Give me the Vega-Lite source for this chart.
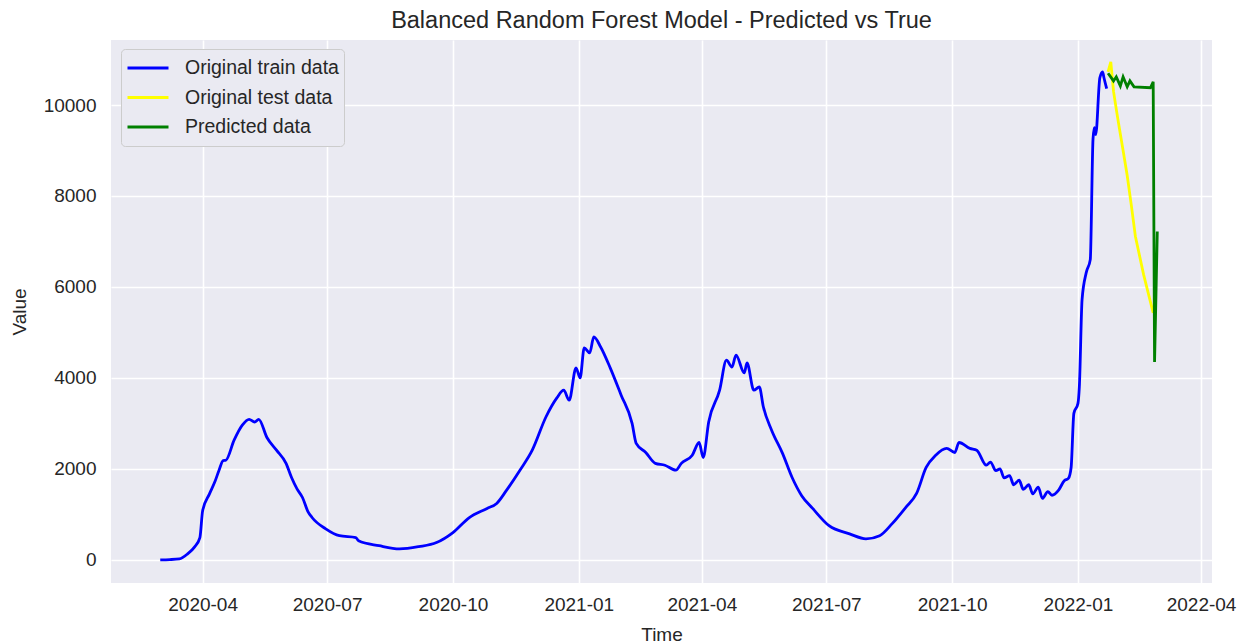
{
  "$schema": "https://vega.github.io/schema/vega-lite/v6.json",
  "width": 1101,
  "height": 543,
  "autosize": {"type": "none"},
  "padding": {"left": 111, "top": 40, "right": 40, "bottom": 61},
  "background": "#ffffff",
  "title": {"text": "Balanced Random Forest Model - Predicted vs True"},
  "datasets": {
    "train": [
      {"date": "2020-03-01", "value": 0},
      {"date": "2020-03-08", "value": 5},
      {"date": "2020-03-15", "value": 20},
      {"date": "2020-03-21", "value": 130},
      {"date": "2020-03-26", "value": 280},
      {"date": "2020-03-30", "value": 490},
      {"date": "2020-04-01", "value": 1080},
      {"date": "2020-04-06", "value": 1450},
      {"date": "2020-04-10", "value": 1720},
      {"date": "2020-04-13", "value": 1970},
      {"date": "2020-04-16", "value": 2180},
      {"date": "2020-04-18", "value": 2190},
      {"date": "2020-04-24", "value": 2630},
      {"date": "2020-04-30", "value": 2960},
      {"date": "2020-05-05", "value": 3090},
      {"date": "2020-05-09", "value": 3030},
      {"date": "2020-05-12", "value": 3090},
      {"date": "2020-05-18", "value": 2690},
      {"date": "2020-05-25", "value": 2410},
      {"date": "2020-06-01", "value": 2120},
      {"date": "2020-06-05", "value": 1810},
      {"date": "2020-06-09", "value": 1560},
      {"date": "2020-06-13", "value": 1370},
      {"date": "2020-06-17", "value": 1060},
      {"date": "2020-06-20", "value": 930},
      {"date": "2020-06-30", "value": 680},
      {"date": "2020-07-10", "value": 530},
      {"date": "2020-07-22", "value": 490},
      {"date": "2020-07-24", "value": 420},
      {"date": "2020-08-08", "value": 310},
      {"date": "2020-08-23", "value": 240},
      {"date": "2020-09-06", "value": 290},
      {"date": "2020-09-19", "value": 380},
      {"date": "2020-10-01", "value": 600},
      {"date": "2020-10-13", "value": 930},
      {"date": "2020-10-26", "value": 1130},
      {"date": "2020-11-02", "value": 1240},
      {"date": "2020-11-09", "value": 1520},
      {"date": "2020-11-19", "value": 1970},
      {"date": "2020-11-28", "value": 2410},
      {"date": "2020-12-08", "value": 3140},
      {"date": "2020-12-16", "value": 3560},
      {"date": "2020-12-21", "value": 3730},
      {"date": "2020-12-25", "value": 3510},
      {"date": "2020-12-30", "value": 4220},
      {"date": "2021-01-02", "value": 4000},
      {"date": "2021-01-05", "value": 4660},
      {"date": "2021-01-09", "value": 4550},
      {"date": "2021-01-12", "value": 4900},
      {"date": "2021-01-17", "value": 4680},
      {"date": "2021-01-24", "value": 4220},
      {"date": "2021-02-01", "value": 3620},
      {"date": "2021-02-09", "value": 3000},
      {"date": "2021-02-12", "value": 2560},
      {"date": "2021-02-19", "value": 2360},
      {"date": "2021-02-26", "value": 2120},
      {"date": "2021-03-05", "value": 2080},
      {"date": "2021-03-13", "value": 1970},
      {"date": "2021-03-17", "value": 2120},
      {"date": "2021-03-25", "value": 2300},
      {"date": "2021-03-30", "value": 2580},
      {"date": "2021-04-02", "value": 2250},
      {"date": "2021-04-06", "value": 3030},
      {"date": "2021-04-14", "value": 3730},
      {"date": "2021-04-19", "value": 4390},
      {"date": "2021-04-23", "value": 4240},
      {"date": "2021-04-26", "value": 4500},
      {"date": "2021-05-02", "value": 4110},
      {"date": "2021-05-04", "value": 4330},
      {"date": "2021-05-09", "value": 3730},
      {"date": "2021-05-13", "value": 3800},
      {"date": "2021-05-16", "value": 3360},
      {"date": "2021-05-22", "value": 2850},
      {"date": "2021-05-30", "value": 2340},
      {"date": "2021-06-06", "value": 1810},
      {"date": "2021-06-13", "value": 1410},
      {"date": "2021-06-21", "value": 1130},
      {"date": "2021-07-03", "value": 750},
      {"date": "2021-07-18", "value": 570},
      {"date": "2021-07-30", "value": 460},
      {"date": "2021-08-09", "value": 530},
      {"date": "2021-08-18", "value": 790},
      {"date": "2021-08-28", "value": 1150},
      {"date": "2021-09-05", "value": 1460},
      {"date": "2021-09-12", "value": 2030},
      {"date": "2021-09-19", "value": 2300},
      {"date": "2021-09-27", "value": 2450},
      {"date": "2021-10-03", "value": 2360},
      {"date": "2021-10-06", "value": 2580},
      {"date": "2021-10-14", "value": 2450},
      {"date": "2021-10-19", "value": 2410},
      {"date": "2021-10-26", "value": 2080},
      {"date": "2021-10-29", "value": 2150},
      {"date": "2021-11-02", "value": 1960},
      {"date": "2021-11-05", "value": 2000},
      {"date": "2021-11-08", "value": 1800},
      {"date": "2021-11-12", "value": 1850},
      {"date": "2021-11-15", "value": 1650},
      {"date": "2021-11-19", "value": 1750},
      {"date": "2021-11-22", "value": 1550},
      {"date": "2021-11-26", "value": 1650},
      {"date": "2021-11-29", "value": 1450},
      {"date": "2021-12-03", "value": 1600},
      {"date": "2021-12-06", "value": 1350},
      {"date": "2021-12-10", "value": 1500},
      {"date": "2021-12-13", "value": 1420},
      {"date": "2021-12-18", "value": 1540},
      {"date": "2021-12-22", "value": 1740},
      {"date": "2021-12-25", "value": 1790},
      {"date": "2021-12-27", "value": 2030},
      {"date": "2021-12-29", "value": 3220},
      {"date": "2022-01-01", "value": 3440},
      {"date": "2022-01-02", "value": 3800},
      {"date": "2022-01-04", "value": 5720},
      {"date": "2022-01-07", "value": 6310},
      {"date": "2022-01-10", "value": 6600},
      {"date": "2022-01-12", "value": 9250},
      {"date": "2022-01-13", "value": 9500},
      {"date": "2022-01-14", "value": 9350},
      {"date": "2022-01-17", "value": 10600},
      {"date": "2022-01-19", "value": 10730},
      {"date": "2022-01-20", "value": 10600},
      {"date": "2022-01-22", "value": 10360}
    ],
    "test": [
      {"date": "2022-01-23", "value": 10730},
      {"date": "2022-01-25", "value": 10950},
      {"date": "2022-01-27", "value": 10300},
      {"date": "2022-01-29", "value": 9910},
      {"date": "2022-01-31", "value": 9540},
      {"date": "2022-02-03", "value": 9000},
      {"date": "2022-02-06", "value": 8450},
      {"date": "2022-02-09", "value": 7800},
      {"date": "2022-02-12", "value": 7110},
      {"date": "2022-02-18", "value": 6270},
      {"date": "2022-02-25", "value": 5430}
    ],
    "pred": [
      {"date": "2022-01-23", "value": 10700},
      {"date": "2022-01-27", "value": 10530},
      {"date": "2022-01-29", "value": 10620},
      {"date": "2022-02-01", "value": 10420},
      {"date": "2022-02-03", "value": 10620},
      {"date": "2022-02-06", "value": 10400},
      {"date": "2022-02-08", "value": 10530},
      {"date": "2022-02-11", "value": 10400},
      {"date": "2022-02-23", "value": 10380},
      {"date": "2022-02-25", "value": 10510},
      {"date": "2022-02-26", "value": 4350},
      {"date": "2022-02-28", "value": 7220}
    ]
  },
  "layer": [
    {
      "data": {"name": "train"},
      "transform": [{"calculate": "'Original train data'", "as": "series"}],
      "mark": {"type": "line", "strokeWidth": 2.8, "interpolate": "monotone"},
      "encoding": {
        "x": {"field": "date", "type": "temporal"},
        "y": {"field": "value", "type": "quantitative"},
        "color": {"field": "series", "type": "nominal"}
      }
    },
    {
      "data": {"name": "test"},
      "transform": [{"calculate": "'Original test data'", "as": "series"}],
      "mark": {"type": "line", "strokeWidth": 2.8},
      "encoding": {
        "x": {"field": "date", "type": "temporal"},
        "y": {"field": "value", "type": "quantitative"},
        "color": {"field": "series", "type": "nominal"}
      }
    },
    {
      "data": {"name": "pred"},
      "transform": [{"calculate": "'Predicted data'", "as": "series"}],
      "mark": {"type": "line", "strokeWidth": 2.8},
      "encoding": {
        "x": {
          "field": "date",
          "type": "temporal",
          "title": "Time",
          "scale": {
            "type": "utc",
            "domain": [
              {"year": 2020, "month": 1, "date": 25, "utc": true},
              {"year": 2022, "month": 4, "date": 9, "utc": true}
            ],
            "nice": false
          },
          "axis": {
            "values": [
              {"year": 2020, "month": 4, "date": 1, "utc": true},
              {"year": 2020, "month": 7, "date": 1, "utc": true},
              {"year": 2020, "month": 10, "date": 1, "utc": true},
              {"year": 2021, "month": 1, "date": 1, "utc": true},
              {"year": 2021, "month": 4, "date": 1, "utc": true},
              {"year": 2021, "month": 7, "date": 1, "utc": true},
              {"year": 2021, "month": 10, "date": 1, "utc": true},
              {"year": 2022, "month": 1, "date": 1, "utc": true},
              {"year": 2022, "month": 4, "date": 1, "utc": true}
            ],
            "format": "%Y-%m",
            "labelPadding": 12,
            "titlePadding": 11,
            "labelFlush": false,
            "labelOverlap": false
          }
        },
        "y": {
          "field": "value",
          "type": "quantitative",
          "title": "Value",
          "scale": {"domain": [-510, 11430], "nice": false, "zero": false},
          "axis": {
            "values": [0, 2000, 4000, 6000, 8000, 10000],
            "format": "d",
            "labelPadding": 15,
            "titlePadding": 14
          }
        },
        "color": {
          "field": "series",
          "type": "nominal",
          "scale": {
            "domain": ["Original train data", "Original test data", "Predicted data"],
            "range": ["#0000ff", "#ffff00", "#008000"]
          },
          "legend": {
            "title": null,
            "orient": "none",
            "legendX": 10,
            "legendY": 9,
            "symbolType": "stroke",
            "symbolSize": 1681,
            "symbolStrokeWidth": 2.8,
            "clipHeight": 28,
            "rowPadding": 1.5,
            "labelFontSize": 19.5,
            "labelColor": "#262626",
            "labelFont": "Liberation Sans",
            "labelOffset": 15,
            "labelLimit": 300,
            "padding": 5,
            "fillColor": "#eaeaf2",
            "strokeColor": "#cccccc",
            "cornerRadius": 4
          }
        }
      }
    }
  ],
  "config": {
    "font": "Liberation Sans",
    "view": {"fill": "#eaeaf2", "stroke": null},
    "axis": {
      "domain": false,
      "ticks": false,
      "gridColor": "#ffffff",
      "gridWidth": 1.6,
      "gridOpacity": 1,
      "labelColor": "#262626",
      "labelFontSize": 19,
      "labelFont": "Liberation Sans",
      "titleColor": "#262626",
      "titleFontSize": 19,
      "titleFont": "Liberation Sans",
      "titleFontWeight": "normal"
    },
    "title": {
      "fontSize": 23.5,
      "fontWeight": "normal",
      "color": "#262626",
      "font": "Liberation Sans",
      "offset": 8
    }
  }
}
